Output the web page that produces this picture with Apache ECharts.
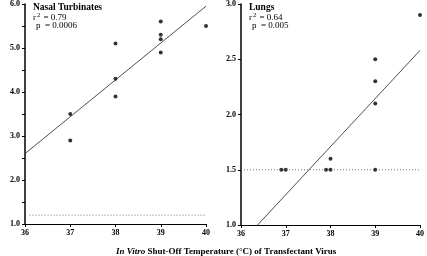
<!DOCTYPE html>
<html>
<head>
<meta charset="utf-8">
<script src="https://cdn.jsdelivr.net/npm/echarts@6/dist/echarts.min.js"></script>
<style>
html, body { margin: 0; padding: 0; background: #fff; }
#chart { width: 427px; height: 256px; }
</style>
</head>
<body>
<div id="chart"></div>
<script>
// nasal turbinates: [shut-off temp, titer]
var nasalPoints = [[37, 3.5], [37, 2.9], [38, 5.1], [38, 4.3], [38, 3.9], [39, 5.6], [39, 5.3], [39, 5.2], [39, 4.9], [40, 5.5]];
var nasalFit = [[36, 2.6], [40, 5.95]];
var nasalLimit = [[36.1, 1.2], [40, 1.2]];
// lungs
var lungPoints = [[40, 2.9], [39, 2.5], [39, 2.3], [39, 2.1], [39, 1.5], [38, 1.6], [38, 1.5], [37.9, 1.5], [37, 1.5], [36.9, 1.5]];
var lungFit = [[36.37, 1.0], [40, 2.58]];
var lungLimit = [[36, 1.5], [40, 1.5]];

var serif = '"Liberation Serif", "DejaVu Serif", serif';

var myChart = echarts.init(document.getElementById('chart'));

function xAxis(idx) {
	return {
		gridIndex: idx, type: 'value', min: 36, max: 40, interval: 1,
		axisLine: {lineStyle: {color: '#000', width: 1}},
		axisTick: {length: 3, lineStyle: {color: '#000'}},
		axisLabel: {color: '#000', fontFamily: serif, fontWeight: 'bold', fontSize: 8, margin: 5},
		splitLine: {show: false}
	};
}
function yAxis(idx, min, max, every) {
	return {
		gridIndex: idx, type: 'value', min: min, max: max, interval: 0.5,
		axisLine: {show: true, lineStyle: {color: '#000', width: 1.5}},
		axisTick: {length: 3, lineStyle: {color: '#000'}},
		axisLabel: {
			color: '#000', fontFamily: serif, fontWeight: 'bold', fontSize: 8, margin: 5,
			formatter: function(v) {
				if (every || Math.abs(v % 1) < 1e-9) return v.toFixed(1);
				return '';
			}
		},
		splitLine: {show: false}
	};
}

function note(x, y, text) {
	return {type: 'text', left: x, top: y, style: {
		text: text, fill: '#000',
		rich: {
			n: {fontSize: 9, fontFamily: serif, color: '#000'},
			s: {fontSize: 6.5, fontFamily: serif, color: '#000', verticalAlign: 'top', padding: [0, 1, 4, 1]}
		}
	}};
}

var option = {
	animation: false,
	grid: [
		{left: 25, right: 221, top: 4, bottom: 32},
		{left: 241, right: 4, top: 4, bottom: 31}
	],
	xAxis: [xAxis(0), xAxis(1)],
	yAxis: [yAxis(0, 1, 6, false), yAxis(1, 1, 3, true)],
	series: [
		{type: 'line', xAxisIndex: 0, yAxisIndex: 0, data: nasalLimit, symbol: 'none',
			lineStyle: {color: '#555', width: 0.8, type: [1, 2]}},
		{type: 'line', xAxisIndex: 0, yAxisIndex: 0, data: nasalFit, symbol: 'none',
			lineStyle: {color: '#222', width: 0.8}},
		{type: 'scatter', xAxisIndex: 0, yAxisIndex: 0, data: nasalPoints, symbolSize: 4,
			itemStyle: {color: '#000'}},
		{type: 'line', xAxisIndex: 1, yAxisIndex: 1, data: lungLimit, symbol: 'none',
			lineStyle: {color: '#555', width: 0.8, type: [1, 2]}},
		{type: 'line', xAxisIndex: 1, yAxisIndex: 1, data: lungFit, symbol: 'none',
			lineStyle: {color: '#222', width: 0.8}},
		{type: 'scatter', xAxisIndex: 1, yAxisIndex: 1, data: lungPoints, symbolSize: 4,
			itemStyle: {color: '#000'}}
	],
	graphic: [
		{type: 'text', left: 33, top: 3, style: {text: 'Nasal Turbinates', fontSize: 9.5, fontWeight: 'bold', fontFamily: serif, fill: '#000'}},
		note(33, 12, '{n|r}{s|2}{n| = 0.79}'),
		note(36, 21, '{n|p  = 0.0006}'),
		{type: 'text', left: 249, top: 3, style: {text: 'Lungs', fontSize: 9.5, fontWeight: 'bold', fontFamily: serif, fill: '#000'}},
		note(249, 12, '{n|r}{s|2}{n| = 0.64}'),
		note(252, 21, '{n|p  = 0.005}'),
		{type: 'text', left: 116, top: 247, style: {
			text: '{i|In Vitro}{b| Shut-Off Temperature (°C) of Transfectant Virus}',
			fill: '#000',
			rich: {
				i: {fontStyle: 'italic', fontWeight: 'bold', fontSize: 9, fontFamily: serif, color: '#000'},
				b: {fontWeight: 'bold', fontSize: 9, fontFamily: serif, color: '#000'}
			}
		}}
	]
};
myChart.setOption(option);
</script>
</body>
</html>
